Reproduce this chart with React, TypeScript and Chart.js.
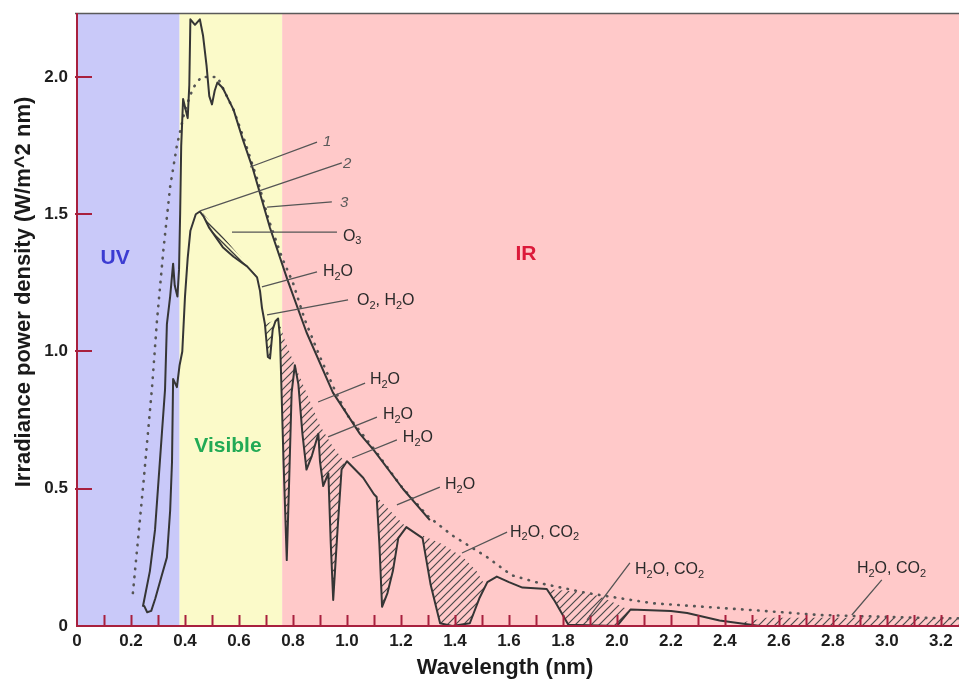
import React, { useEffect, useRef } from 'react';
import { Chart, registerables } from 'chart.js';

Chart.register(...registerables);

// ---------- axis ranges ----------
const X_MIN = 0;
const X_MAX = 3.267;
const Y_MIN = 0;
const Y_MAX = 2.233;

// ---------- series (wavelength, irradiance) ----------
// curve 3: at sea level
const curve3X = [0.248, 0.26, 0.275, 0.29, 0.31, 0.333, 0.345, 0.352, 0.356, 0.37, 0.38, 0.39, 0.40, 0.41, 0.42, 0.44, 0.455, 0.47, 0.49, 0.54, 0.58, 0.63, 0.667, 0.678, 0.685, 0.696, 0.707, 0.715, 0.725, 0.735, 0.745, 0.752, 0.765, 0.777, 0.785, 0.795, 0.807, 0.82, 0.835, 0.85, 0.87, 0.894, 0.90, 0.912, 0.931, 0.94, 0.949, 0.965, 0.98, 1.0, 1.06, 1.1, 1.11, 1.12, 1.13, 1.15, 1.17, 1.19, 1.22, 1.28, 1.31, 1.345, 1.39, 1.455, 1.49, 1.52, 1.555, 1.6, 1.65, 1.74, 1.77, 1.82, 2.0, 2.05, 2.2, 2.26, 2.38, 2.53, 3.267];
const curve3Y = [0.075, 0.05, 0.055, 0.1, 0.17, 0.25, 0.42, 0.6, 0.9, 0.87, 0.95, 1.0, 1.2, 1.34, 1.44, 1.50, 1.51, 1.49, 1.45, 1.38, 1.345, 1.31, 1.27, 1.22, 1.16, 1.10, 0.98, 0.975, 1.08, 1.11, 1.12, 1.05, 0.6, 0.24, 0.5, 0.85, 0.95, 0.88, 0.7, 0.57, 0.62, 0.70, 0.6, 0.51, 0.556, 0.3, 0.095, 0.35, 0.57, 0.6, 0.54, 0.48, 0.47, 0.3, 0.07, 0.12, 0.2, 0.32, 0.36, 0.32, 0.15, 0.01, 0.0, 0.01, 0.1, 0.16, 0.18, 0.16, 0.14, 0.135, 0.09, 0.005, 0.0, 0.06, 0.055, 0.047, 0.02, 0.0, 0.0];

// curve 1: outside the atmosphere
const curve1X = [0.244, 0.27, 0.289, 0.315, 0.326, 0.333, 0.345, 0.356, 0.362, 0.372, 0.378, 0.382, 0.386, 0.393, 0.41, 0.416, 0.42, 0.437, 0.455, 0.467, 0.48, 0.49, 0.5, 0.51, 0.52, 0.54, 0.58, 0.615, 0.65, 0.715, 0.78, 0.85, 0.948, 1.048, 1.1, 1.207, 1.307];
const curve1Y = [0.07, 0.2, 0.35, 0.71, 0.86, 1.1, 1.2, 1.32, 1.24, 1.2, 1.3, 1.5, 1.75, 1.92, 1.85, 1.97, 2.21, 2.19, 2.21, 2.15, 2.04, 1.93, 1.9, 1.95, 1.98, 1.96, 1.88, 1.77, 1.67, 1.45, 1.26, 1.07, 0.85, 0.70, 0.64, 0.50, 0.386];

// curve 2: black body (dotted)
const curve2X = [0.207, 0.245, 0.278, 0.296, 0.32, 0.345, 0.37, 0.40, 0.43, 0.46, 0.52, 0.58, 0.62, 0.67, 0.71, 0.76, 0.80, 0.844, 0.9, 0.95, 1.0, 1.1, 1.2, 1.3, 1.39, 1.52, 1.61, 1.71, 1.89, 2.13, 2.5, 2.75, 3.12, 3.267];
const curve2Y = [0.12, 0.51, 0.87, 1.11, 1.37, 1.60, 1.75, 1.88, 1.96, 2.0, 2.0, 1.88, 1.77, 1.62, 1.48, 1.34, 1.25, 1.115, 0.98, 0.87, 0.77, 0.645, 0.51, 0.40, 0.33, 0.25, 0.185, 0.157, 0.12, 0.083, 0.058, 0.04, 0.03, 0.028];

// upper edges of the hatched absorption bands
const hatchO3X = [0.465, 0.67];
const hatchO3Y = [1.505, 1.27];
const hatchA_X = [0.70, 0.745, 0.77, 0.807, 0.85, 0.9, 0.95, 0.99];
const hatchA_Y = [1.10, 1.12, 1.04, 0.95, 0.85, 0.73, 0.65, 0.60];
const hatchB_X = [1.11, 1.15, 1.2, 1.22];
const hatchB_Y = [0.47, 0.43, 0.38, 0.36];
const hatchC_X = [1.28, 1.35, 1.43, 1.48, 1.51];
const hatchC_Y = [0.33, 0.30, 0.25, 0.20, 0.15];
const hatchD_X = [1.74, 1.85, 1.93, 2.0, 2.04];
const hatchD_Y = [0.135, 0.125, 0.11, 0.08, 0.06];
const hatchE_X = [2.45, 2.55, 3.267];
const hatchE_Y = [0.01, 0.03, 0.03];

// spectral bands
const bandNames = ['UV', 'Visible', 'IR'];
const bandStart = [0, 0.38, 0.76];
const bandEnd = [0.38, 0.76, 3.267];
const bandFill = ['#c9c9f9', '#fbfac9', '#ffc9c9'];
const bandTextColor = ['#3c3cd2', '#22aa55', '#dc1a3a'];
const bandTextX = [0.141, 0.559, 1.663];
const bandTextY = [1.34, 0.656, 1.355];

// annotations
const annText = ['1', '2', '3', 'O₃', 'H₂O', 'O₂, H₂O', 'H₂O', 'H₂O', 'H₂O', 'H₂O', 'H₂O, CO₂', 'H₂O, CO₂', 'H₂O, CO₂'];
const annX = [0.911, 0.985, 0.974, 0.985, 0.911, 1.037, 1.085, 1.133, 1.207, 1.363, 1.604, 2.067, 2.889];
const annY = [1.763, 1.683, 1.541, 1.42, 1.29, 1.184, 0.896, 0.769, 0.685, 0.514, 0.342, 0.204, 0.208];
const leadX1 = [0.641, 0.456, 0.704, 0.574, 0.685, 0.704, 0.893, 0.93, 1.019, 1.185, 1.426, 2.048, 2.981];
const leadY1 = [1.672, 1.512, 1.526, 1.435, 1.235, 1.133, 0.816, 0.689, 0.612, 0.441, 0.266, 0.23, 0.168];
const leadX2 = [0.889, 0.981, 0.944, 0.963, 0.889, 1.004, 1.067, 1.111, 1.185, 1.344, 1.593, 1.889, 2.87];
const leadY2 = [1.763, 1.687, 1.545, 1.435, 1.29, 1.188, 0.885, 0.761, 0.678, 0.506, 0.342, 0.022, 0.04];

const xTitle = 'Wavelength (nm)';
const yTitle = 'Irradiance power density (W/m^2 nm)';

const FONT = '"Liberation Sans", Arial, sans-serif';
const AXIS_RED = '#a8203e';
const LINE = '#353535';
const SUBS = '₀₁₂₃₄₅₆₇₈₉';

const pts = (xs: number[], ys: number[]) => xs.map((x, i) => ({ x, y: ys[i] }));

function makeHatch(spacing: number, dir: string, color: string, width: number) {
  const c = document.createElement('canvas');
  c.width = spacing;
  c.height = spacing;
  const g = c.getContext('2d')!;
  g.strokeStyle = color;
  g.lineWidth = width;
  g.beginPath();
  if (dir === '/') {
    g.moveTo(-1, spacing + 1); g.lineTo(spacing + 1, -1);
    g.moveTo(-1, 1); g.lineTo(1, -1);
    g.moveTo(spacing - 1, spacing + 1); g.lineTo(spacing + 1, spacing - 1);
  } else {
    g.moveTo(-1, -1); g.lineTo(spacing + 1, spacing + 1);
    g.moveTo(spacing - 1, -1); g.lineTo(spacing + 1, 1);
    g.moveTo(-1, spacing - 1); g.lineTo(1, spacing + 1);
  }
  g.stroke();
  return g.createPattern(c, 'repeat')!;
}

function drawRich(ctx: CanvasRenderingContext2D, text: string, x: number, y: number, size: number, color: string, style: string) {
  let cx = x;
  ctx.fillStyle = color;
  ctx.textAlign = 'left';
  ctx.textBaseline = 'middle';
  for (const ch of text) {
    const si = SUBS.indexOf(ch);
    if (si >= 0) {
      ctx.font = `${style}${Math.round(size * 0.68)}px ${FONT}`;
      const d = String(si);
      ctx.fillText(d, cx, y + size * 0.3);
      cx += ctx.measureText(d).width;
    } else {
      ctx.font = `${style}${size}px ${FONT}`;
      ctx.fillText(ch, cx, y);
      cx += ctx.measureText(ch).width;
    }
  }
}

const decor = {
  id: 'decor',
  beforeDatasetsDraw(chart: any) {
    const { ctx, chartArea: a, scales } = chart;
    const x = scales.x, y = scales.y;
    ctx.save();
    for (let i = 0; i < bandNames.length; i++) {
      const l = Math.max(x.getPixelForValue(bandStart[i]), a.left);
      const r = Math.min(x.getPixelForValue(bandEnd[i]), a.right);
      ctx.fillStyle = bandFill[i];
      ctx.fillRect(l, a.top, r - l, a.bottom - a.top);
    }
    ctx.font = `bold 21px ${FONT}`;
    ctx.textAlign = 'center';
    ctx.textBaseline = 'middle';
    for (let i = 0; i < bandNames.length; i++) {
      ctx.fillStyle = bandTextColor[i];
      ctx.fillText(bandNames[i], x.getPixelForValue(bandTextX[i]), y.getPixelForValue(bandTextY[i]));
    }
    ctx.restore();
  },
  afterDatasetsDraw(chart: any) {
    const { ctx, chartArea: a, scales } = chart;
    const x = scales.x, y = scales.y;
    ctx.save();
    // top border
    ctx.strokeStyle = '#5a5a5a';
    ctx.lineWidth = 1.5;
    ctx.beginPath();
    ctx.moveTo(a.left - 2, a.top + 0.5);
    ctx.lineTo(a.right, a.top + 0.5);
    ctx.stroke();
    // axes
    ctx.strokeStyle = AXIS_RED;
    ctx.lineWidth = 2;
    ctx.beginPath();
    ctx.moveTo(a.left, a.top);
    ctx.lineTo(a.left, a.bottom);
    ctx.lineTo(a.right, a.bottom);
    ctx.stroke();
    // inner tick marks
    ctx.beginPath();
    for (const t of x.ticks) {
      if (t.value <= 0) continue;
      const px = Math.round(x.getPixelForValue(t.value)) + 0.5;
      ctx.moveTo(px, a.bottom);
      ctx.lineTo(px, a.bottom - 11);
    }
    for (const t of y.ticks) {
      if (t.value <= 0) continue;
      const py = Math.round(y.getPixelForValue(t.value));
      ctx.moveTo(a.left - 2, py);
      ctx.lineTo(a.left + 15, py);
    }
    ctx.stroke();
    // leader lines
    ctx.strokeStyle = '#555555';
    ctx.lineWidth = 1.3;
    ctx.beginPath();
    for (let i = 0; i < annText.length; i++) {
      ctx.moveTo(x.getPixelForValue(leadX1[i]), y.getPixelForValue(leadY1[i]));
      ctx.lineTo(x.getPixelForValue(leadX2[i]), y.getPixelForValue(leadY2[i]));
    }
    ctx.stroke();
    // annotation text
    for (let i = 0; i < annText.length; i++) {
      const isNum = /^[0-9]$/.test(annText[i]);
      drawRich(ctx, annText[i], x.getPixelForValue(annX[i]), y.getPixelForValue(annY[i]),
        isNum ? 15 : 16, isNum ? '#5a5a5a' : '#2a2a2a', isNum ? 'italic ' : '');
    }
    // axis titles
    ctx.fillStyle = '#1a1a1a';
    ctx.font = `bold 22px ${FONT}`;
    ctx.textAlign = 'center';
    ctx.textBaseline = 'middle';
    ctx.fillText(xTitle, 505, 668);
    ctx.translate(24, 292);
    ctx.rotate(-Math.PI / 2);
    ctx.font = `bold 22px ${FONT}`;
    ctx.fillText(yTitle, 0, 0);
    ctx.restore();
  },
};

export default function App() {
  const ref = useRef<HTMLCanvasElement>(null);
  useEffect(() => {
    const canvas = ref.current!;
    const slash = makeHatch(8, '/', '#4a4a4a', 1.2);
    const back = makeHatch(5, '\\', '#3a3a3a', 1.3);
    const clear = 'rgba(0,0,0,0)';
    const lineBase = { pointRadius: 0, tension: 0, borderJoinStyle: 'round' as const };
    const hatchSet = (xs: number[], ys: number[], pat: CanvasPattern) => ({
      ...lineBase,
      data: pts(xs, ys),
      borderWidth: 0,
      borderColor: clear,
      fill: { target: 0, above: pat, below: clear },
    });
    const chart = new Chart(canvas, {
      type: 'line',
      data: {
        datasets: [
          { ...lineBase, data: pts(curve3X, curve3Y), borderColor: LINE, borderWidth: 2, fill: false },
          { ...lineBase, data: pts(curve1X, curve1Y), borderColor: LINE, borderWidth: 2, fill: false },
          { ...lineBase, data: pts(curve2X, curve2Y), borderColor: '#555555', borderWidth: 2.6, borderDash: [0.5, 7.5], borderCapStyle: 'round', fill: false },
          hatchSet(hatchO3X, hatchO3Y, back),
          hatchSet(hatchA_X, hatchA_Y, slash),
          hatchSet(hatchB_X, hatchB_Y, slash),
          hatchSet(hatchC_X, hatchC_Y, slash),
          hatchSet(hatchD_X, hatchD_Y, slash),
          hatchSet(hatchE_X, hatchE_Y, slash),
        ] as any,
      },
      options: {
        responsive: false,
        animation: false,
        devicePixelRatio: 1,
        layout: { padding: { top: 13, left: 0, right: 0, bottom: 0 } },
        plugins: { legend: { display: false }, tooltip: { enabled: false }, filler: { propagate: false } },
        scales: {
          x: {
            type: 'linear',
            min: X_MIN,
            max: X_MAX,
            grid: { display: false, drawTicks: false },
            border: { display: false },
            afterFit: (s: any) => { s.height = 56; s.paddingLeft = 0; s.paddingRight = 0; },
            ticks: {
              stepSize: 0.1,
              autoSkip: false,
              maxRotation: 0,
              includeBounds: false,
              padding: 5,
              color: '#1e1e1e',
              font: { size: 17, weight: 'bold', family: FONT },
              callback: (v: any) => {
                const n = Math.round(Number(v) * 10);
                if (n % 2 !== 0) return '';
                return n === 0 ? '0' : (n / 10).toFixed(1);
              },
            },
          },
          y: {
            min: Y_MIN,
            max: Y_MAX,
            grid: { display: false, drawTicks: false },
            border: { display: false },
            afterFit: (s: any) => { s.width = 77; s.paddingTop = 0; s.paddingBottom = 0; },
            ticks: {
              stepSize: 0.5,
              includeBounds: false,
              padding: 9,
              color: '#1e1e1e',
              font: { size: 17, weight: 'bold', family: FONT },
              callback: (v: any) => (Number(v) === 0 ? '0' : Number(v).toFixed(1)),
            },
          },
        },
      } as any,
      plugins: [decor],
    });
    return () => chart.destroy();
  }, []);
  return (
    <div style={{ position: 'absolute', left: 0, top: 0, width: 959, height: 682, background: '#ffffff' }}>
      <canvas ref={ref} width={959} height={682} style={{ display: 'block' }} />
    </div>
  );
}
